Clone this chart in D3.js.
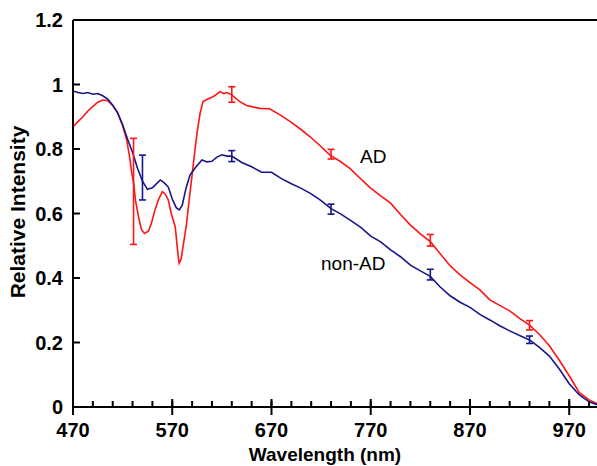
<!DOCTYPE html>
<html>
<head>
<meta charset="utf-8">
<script src="https://cdn.jsdelivr.net/npm/d3@7"></script>
<style>
  body { margin: 0; background: #fff; }
  svg { display: block; font-family: "Liberation Sans", Arial, sans-serif; }
  .tick-label { font-weight: bold; font-size: 20px; fill: #000; }
  .axis-title { font-weight: bold; font-size: 19px; fill: #000; }
  .series-label { font-size: 19px; fill: #000; }
</style>
</head>
<body>
<svg id="chart"></svg>
<script>
// data: [wavelength nm, relative intensity]
const adSpectrum = [
  [470, 0.869], [475, 0.885], [480, 0.900], [485, 0.918], [490, 0.932], [495, 0.945],
  [500, 0.952], [505, 0.950], [510, 0.935], [515, 0.912], [520, 0.872], [524, 0.830],
  [527, 0.776], [529, 0.730], [531, 0.695], [533, 0.640], [536, 0.590], [539, 0.550],
  [542, 0.538], [546, 0.545], [549, 0.570], [553, 0.615], [556, 0.642], [560, 0.668],
  [563, 0.660], [566, 0.642], [569, 0.600], [573, 0.559], [576, 0.466], [577, 0.446],
  [579, 0.460], [582, 0.520], [584, 0.559], [587, 0.640], [590, 0.720], [593, 0.800],
  [595, 0.850], [598, 0.910], [601, 0.947], [606, 0.955], [611, 0.962], [615, 0.970],
  [618, 0.978], [622, 0.972], [625, 0.975], [630, 0.968], [638, 0.947], [645, 0.935],
  [658, 0.926], [668, 0.925], [679, 0.905], [689, 0.885], [699, 0.862], [709, 0.838],
  [719, 0.810], [729, 0.781], [739, 0.762], [749, 0.740], [759, 0.710], [769, 0.681],
  [780, 0.655], [790, 0.632], [800, 0.597], [810, 0.564], [820, 0.537], [830, 0.513],
  [840, 0.475], [850, 0.438], [860, 0.410], [870, 0.386], [880, 0.363], [890, 0.332],
  [900, 0.315], [910, 0.298], [920, 0.275], [930, 0.254], [940, 0.225], [950, 0.190],
  [960, 0.145], [970, 0.097], [980, 0.045], [990, 0.022], [1000, 0.008]
];

const nonAdSpectrum = [
  [470, 0.980], [475, 0.975], [480, 0.972], [485, 0.975], [490, 0.970], [495, 0.972],
  [500, 0.965], [505, 0.955], [510, 0.936], [515, 0.912], [520, 0.875], [525, 0.830],
  [530, 0.790], [535, 0.740], [540, 0.700], [545, 0.675], [550, 0.680], [555, 0.695],
  [558, 0.704], [562, 0.695], [566, 0.682], [570, 0.645], [574, 0.618], [577, 0.611],
  [580, 0.625], [584, 0.680], [588, 0.720], [594, 0.745], [600, 0.766], [605, 0.760],
  [610, 0.762], [615, 0.775], [620, 0.782], [625, 0.778], [630, 0.778], [640, 0.758],
  [650, 0.745], [660, 0.728], [670, 0.728], [680, 0.708], [690, 0.692], [700, 0.678],
  [710, 0.661], [720, 0.640], [730, 0.615], [740, 0.598], [750, 0.578], [760, 0.557],
  [770, 0.530], [780, 0.512], [790, 0.487], [800, 0.466], [810, 0.440], [820, 0.422],
  [830, 0.405], [840, 0.372], [850, 0.345], [860, 0.325], [870, 0.309], [880, 0.287],
  [890, 0.270], [900, 0.252], [910, 0.236], [920, 0.222], [930, 0.208], [940, 0.185],
  [950, 0.158], [960, 0.118], [970, 0.072], [980, 0.038], [990, 0.016], [1000, 0.005]
];

// error bars: [wavelength, low, high]
const adErrors = [[531, 0.504, 0.833], [630, 0.945, 0.993], [730, 0.769, 0.799], [830, 0.499, 0.535], [930, 0.239, 0.268]];
const nonAdErrors = [[540, 0.642, 0.781], [630, 0.761, 0.795], [730, 0.598, 0.629], [830, 0.394, 0.427], [930, 0.197, 0.220]];

const xTicks = [470, 570, 670, 770, 870, 970];
const xMinorTicks = d3.range(470, 1000, 20);
const yTicks = [0, 0.2, 0.4, 0.6, 0.8, 1, 1.2];

const adColor = "#ff1414";
const nonAdColor = "#16168a";

//layout
const W = 597, H = 466;
const margin = { top: 20, right: -2, bottom: 59, left: 73 };

const svg = d3.select("#chart").attr("width", W).attr("height", H);

const x = d3.scaleLinear().domain([470, 1000]).range([margin.left, W - margin.right]);
const y = d3.scaleLinear().domain([0, 1.2]).range([H - margin.bottom, margin.top]);

const line = d3.line().x(d => x(d[0])).y(d => y(d[1]));

// curves
const curves = svg.append("g");
curves.append("path").datum(adSpectrum)
  .attr("d", line).attr("fill", "none").attr("stroke", adColor).attr("stroke-width", 1.6);
curves.append("path").datum(nonAdSpectrum)
  .attr("d", line).attr("fill", "none").attr("stroke", nonAdColor).attr("stroke-width", 1.6);

// error bars
function drawErrors(rows, color) {
  const g = svg.append("g").attr("stroke", color).attr("stroke-width", 1.6);
  rows.forEach(r => {
    const cx = x(r[0]);
    g.append("line").attr("x1", cx).attr("x2", cx).attr("y1", y(r[1])).attr("y2", y(r[2]));
    g.append("line").attr("x1", cx - 3.5).attr("x2", cx + 3.5).attr("y1", y(r[1])).attr("y2", y(r[1]));
    g.append("line").attr("x1", cx - 3.5).attr("x2", cx + 3.5).attr("y1", y(r[2])).attr("y2", y(r[2]));
  });
}
drawErrors(adErrors, adColor);
drawErrors(nonAdErrors, nonAdColor);

// axes frame
const axisG = svg.append("g").attr("stroke", "#000").attr("stroke-width", 2);
axisG.append("line")
  .attr("x1", x(470)).attr("x2", x(470)).attr("y1", y(1.2)).attr("y2", y(0));
axisG.append("line")
  .attr("x1", x(470)).attr("x2", x(1000)).attr("y1", y(0)).attr("y2", y(0));
axisG.append("line")
  .attr("x1", x(470)).attr("x2", x(1000)).attr("y1", y(1.2)).attr("y2", y(1.2));

// y ticks (inside)
axisG.selectAll(".ytick").data(yTicks).enter().append("line")
  .attr("x1", x(470)).attr("x2", x(470) + 7)
  .attr("y1", d => y(d)).attr("y2", d => y(d));

// x ticks: minor inside, major crossing
axisG.selectAll(".xminor").data(xMinorTicks).enter().append("line")
  .attr("x1", d => x(d)).attr("x2", d => x(d))
  .attr("y1", y(0) - 6).attr("y2", y(0));
axisG.selectAll(".xmajor").data(xTicks).enter().append("line")
  .attr("x1", d => x(d)).attr("x2", d => x(d))
  .attr("y1", y(0) - 8).attr("y2", y(0) + 8);

// tick labels
svg.selectAll(".ylab").data(yTicks).enter().append("text")
  .attr("class", "tick-label")
  .attr("x", x(470) - 10)
  .attr("y", d => y(d))
  .attr("dy", "0.36em")
  .attr("text-anchor", "end")
  .text(d => d);

svg.selectAll(".xlab").data(xTicks).enter().append("text")
  .attr("class", "tick-label")
  .attr("x", d => x(d))
  .attr("y", y(0) + 30)
  .attr("text-anchor", "middle")
  .text(d => d);

// axis titles
svg.append("text").attr("class", "axis-title")
  .attr("x", 325).attr("y", 461)
  .attr("text-anchor", "middle")
  .text("Wavelength (nm)");

svg.append("text").attr("class", "axis-title")
  .attr("transform", "translate(25, 212) rotate(-90)")
  .attr("text-anchor", "middle")
  .style("font-size", "21px")
  .text("Relative Intensity");

// series labels
svg.append("text").attr("class", "series-label").attr("x", 360).attr("y", 163).text("AD");
svg.append("text").attr("class", "series-label").attr("x", 321).attr("y", 270).text("non-AD");
</script>
</body>
</html>
